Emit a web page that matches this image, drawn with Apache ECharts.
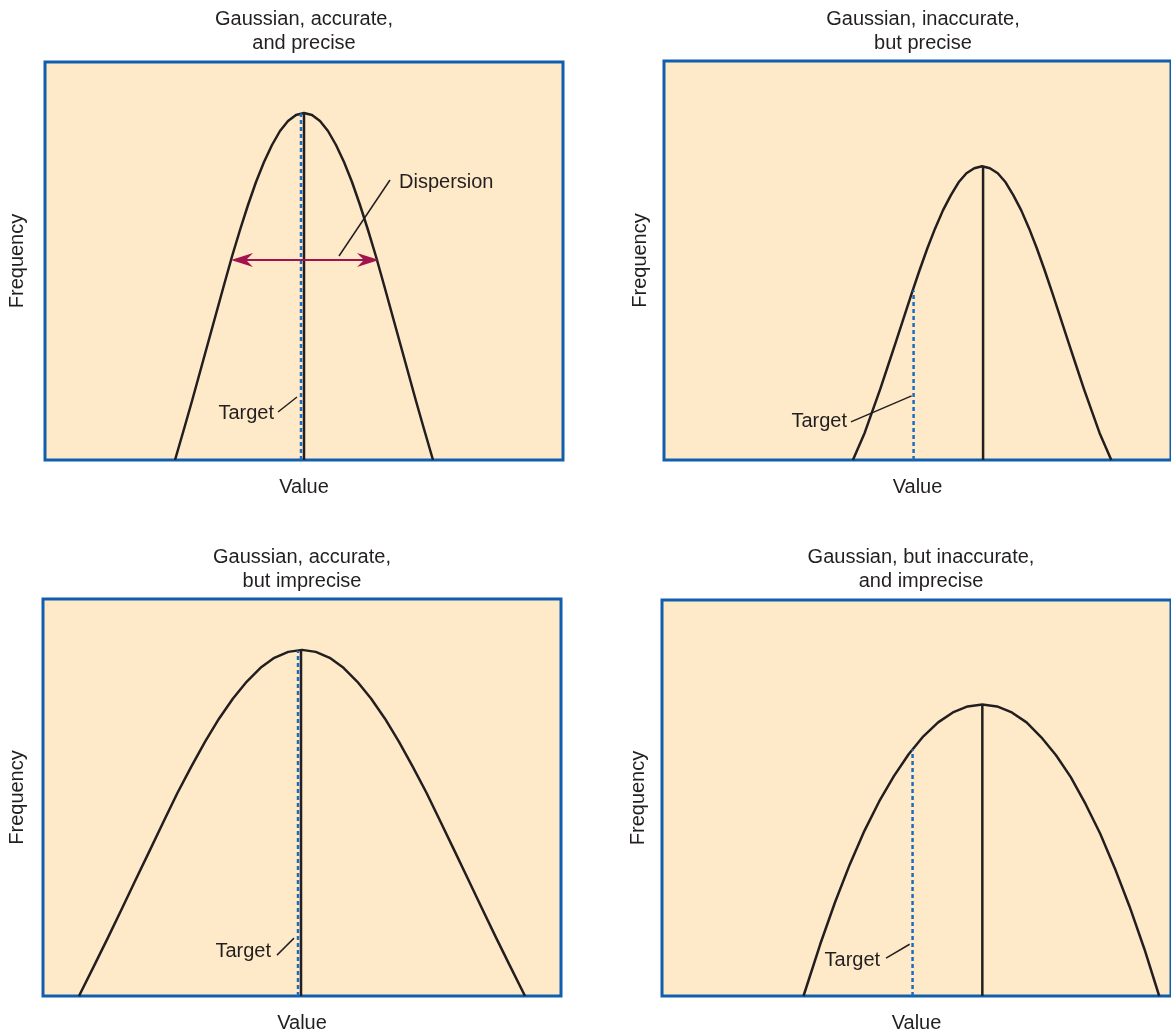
<!DOCTYPE html>
<html><head><meta charset="utf-8">
<script src="https://cdn.jsdelivr.net/npm/echarts@6/dist/echarts.min.js"></script>
<style>html,body{margin:0;padding:0;background:#fff}#c{width:1171px;height:1034px}</style>
</head><body><div id="c"></div>
<script>
// ---- Data (arbitrary units: value 0-518 across a panel, frequency 0-398 up a panel) ----
const panelTitles = [
  'Gaussian, accurate,\nand precise',
  'Gaussian, inaccurate,\nbut precise',
  'Gaussian, accurate,\nbut imprecise',
  'Gaussian, but inaccurate,\nand imprecise'
];
const xAxisName = 'Value';
const yAxisName = 'Frequency';
const targetLabel = 'Target';
const dispersionLabel = 'Dispersion';

// Panel 1: accurate & precise
const p1X = [130, 139, 147, 155, 163, 171, 179, 187, 195, 203, 211, 219, 227, 235, 243, 251, 259, 267, 275, 283, 291, 299, 307, 315, 323, 331, 339, 347, 355, 363, 371, 379, 388];
const p1Y = [0, 31, 59, 88, 117, 146, 175, 203.5, 230, 255, 278, 298, 315, 329, 339, 345, 347, 345, 339, 329, 315, 298, 278, 255, 230, 203.5, 175, 146, 117, 88, 59, 31, 0];
// Panel 2: inaccurate but precise
const p2X = [193, 205, 213, 221, 229, 237, 245, 253, 261, 269, 277, 285, 293, 301, 309, 317, 325, 333, 341, 349, 357, 365, 373, 381, 389, 397, 405, 413, 421, 429, 437, 445, 457];
const p2Y = [0, 27, 49, 71, 94.5, 118, 142, 166, 189, 211, 231, 249, 264, 277, 286, 291, 293, 291, 286, 277, 264, 249, 231, 211, 189, 166, 142, 118, 94.5, 71, 49, 27, 0];
// Panel 3: accurate but imprecise
const p3X = [36, 51.4, 65.2, 79.1, 92.9, 106.8, 120.6, 134.4, 148.3, 162.1, 176, 189.8, 203.6, 217.5, 231.3, 245.2, 259, 272.8, 286.7, 300.5, 314.4, 328.2, 342, 355.9, 369.7, 383.6, 397.4, 411.3, 425.1, 438.9, 452.8, 466.6, 482];
const p3Y = [0, 31, 59, 88, 117, 146, 175, 203.5, 230, 255, 278, 298, 315, 329, 339, 345, 347, 345, 339, 329, 315, 298, 278, 255, 230, 203.5, 175, 146, 117, 88, 59, 31, 0];
// Panel 4: inaccurate and imprecise
const p4X = [144, 161, 176, 191, 206, 221, 236, 251, 266, 281, 296, 311, 326, 341, 356, 371, 386, 401, 416, 431, 446, 461, 476, 491, 506];
const p4Y = [0, 52, 94, 132, 166, 195.5, 221, 243, 261, 275, 285, 291, 293, 291, 285, 275, 260, 242, 220, 193, 163, 128, 89.5, 47, 0];

// mean (black) and target (blue) lines: [x, top y]
const meanLines   = [[259, 347], [326, 292.5], [258, 347], [326, 293]];
const targetLines = [[256, 346.5], [255, 169], [255, 346], [255, 248]];

// annotation anchors (same units)
const targetText   = [[229, 47], [187, 38], [228, 45], [222, 36]];
const targetLeader = [[[233, 48], [252, 63]], [[191, 38], [253, 64]], [[234, 41], [251, 58]], [[228, 38], [252, 52]]];
const dispersionText = [354, 278];
const dispersionLeader = [[345, 280], [294, 204]];
const dispersionArrow = [[186, 200], [334, 200]];

// ---- Chart ----
const curvesX = [p1X, p2X, p3X, p4X];
const curvesY = [p1Y, p2Y, p3Y, p4Y];
const FONT = '"Liberation Sans", Arial, Helvetica, sans-serif';
const FS = 20;
const TXT = '#231f20';
const grids = [
  {left: 45, top: 62, width: 518, height: 398},
  {left: 664, top: 61, width: 518, height: 399},
  {left: 43, top: 599, width: 518, height: 399},
  {left: 662, top: 600, width: 518, height: 398}
];
const yNameGaps = [18, 14, 16, 14];
const chart = echarts.init(document.getElementById('c'), null, {renderer: 'canvas'});

const option = {
  animation: false,
  backgroundColor: '#ffffff',
  title: grids.map((g, i) => ({
    text: panelTitles[i],
    left: g.left + g.width / 2,
    top: i < 2 ? 7 : 545,
    padding: 0,
    textAlign: 'center',
    textStyle: {fontFamily: FONT, fontSize: FS, fontWeight: 'normal', color: TXT, lineHeight: 24}
  })),
  grid: grids.map(g => Object.assign({
    show: true, backgroundColor: '#feeac8', borderColor: '#0f5fae', borderWidth: 3,
    containLabel: false
  }, g)),
  xAxis: grids.map((g, i) => ({
    type: 'value', gridIndex: i, min: 0, max: 518,
    name: xAxisName, nameLocation: 'middle', nameGap: 17,
    nameTextStyle: {fontFamily: FONT, fontSize: FS, color: TXT},
    axisLine: {show: false}, axisTick: {show: false}, axisLabel: {show: false}, splitLine: {show: false}
  })),
  yAxis: grids.map((g, i) => ({
    type: 'value', gridIndex: i, min: 0, max: 398,
    name: yAxisName, nameLocation: 'middle', nameGap: yNameGaps[i], nameRotate: 90,
    nameTextStyle: {fontFamily: FONT, fontSize: FS, color: TXT},
    axisLine: {show: false}, axisTick: {show: false}, axisLabel: {show: false}, splitLine: {show: false}
  })),
  series: []
};

for (let i = 0; i < 4; i++) {
  option.series.push({
    type: 'line', xAxisIndex: i, yAxisIndex: i, smooth: false, symbol: 'none',
    data: curvesX[i].map((x, k) => [x, curvesY[i][k]]),
    lineStyle: {color: TXT, width: 2.5, join: 'round'}, z: 3
  });
  option.series.push({
    type: 'line', xAxisIndex: i, yAxisIndex: i, symbol: 'none',
    data: [[meanLines[i][0], 0], [meanLines[i][0], meanLines[i][1]]],
    lineStyle: {color: TXT, width: 2.5}, z: 4
  });
  option.series.push({
    type: 'line', xAxisIndex: i, yAxisIndex: i, symbol: 'none',
    data: [[targetLines[i][0], 0], [targetLines[i][0], targetLines[i][1]]],
    lineStyle: {color: '#1e6cc0', width: 2.5, type: [4, 3]}, z: 5
  });
}
chart.setOption(option);

// ---- Annotations placed via the axes' own scales ----
const P = (g, v) => chart.convertToPixel({gridIndex: g}, v);
const graphics = [];
for (let i = 0; i < 4; i++) {
  const t = P(i, targetText[i]);
  graphics.push({type: 'text', x: t[0], y: t[1], z: 10,
    style: {text: targetLabel, fill: TXT, font: FS + 'px ' + FONT, textAlign: 'right', textVerticalAlign: 'middle'}});
  const a = P(i, targetLeader[i][0]), b = P(i, targetLeader[i][1]);
  graphics.push({type: 'line', z: 10, shape: {x1: a[0], y1: a[1], x2: b[0], y2: b[1]}, style: {stroke: TXT, lineWidth: 1.5}});
}
const dt = P(0, dispersionText);
graphics.push({type: 'text', x: dt[0], y: dt[1], z: 10,
  style: {text: dispersionLabel, fill: TXT, font: FS + 'px ' + FONT, textAlign: 'left', textVerticalAlign: 'middle'}});
const d1 = P(0, dispersionLeader[0]), d2 = P(0, dispersionLeader[1]);
graphics.push({type: 'line', z: 10, shape: {x1: d1[0], y1: d1[1], x2: d2[0], y2: d2[1]}, style: {stroke: TXT, lineWidth: 1.5}});
const L = P(0, dispersionArrow[0]), R = P(0, dispersionArrow[1]);
const AC = '#a3124d', HL = 22, HW = 7, NOTCH = 15;
graphics.push({type: 'line', z: 9, shape: {x1: L[0] + NOTCH, y1: L[1], x2: R[0] - NOTCH, y2: R[1]}, style: {stroke: AC, lineWidth: 2}});
graphics.push({type: 'polygon', z: 9, shape: {points: [[L[0], L[1]], [L[0] + HL, L[1] - HW], [L[0] + NOTCH, L[1]], [L[0] + HL, L[1] + HW]]}, style: {fill: AC}});
graphics.push({type: 'polygon', z: 9, shape: {points: [[R[0], R[1]], [R[0] - HL, R[1] - HW], [R[0] - NOTCH, R[1]], [R[0] - HL, R[1] + HW]]}, style: {fill: AC}});
chart.setOption({graphic: graphics});
</script>
</body></html>
